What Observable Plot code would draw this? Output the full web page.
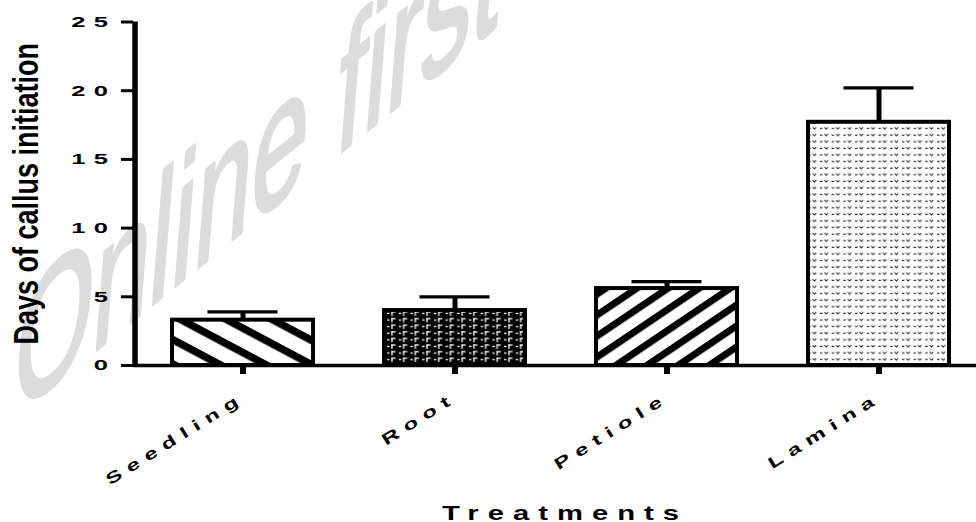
<!DOCTYPE html>
<html>
<head>
<meta charset="utf-8">
<script src="https://cdn.jsdelivr.net/npm/d3@7"></script>
<script src="https://cdn.jsdelivr.net/npm/@observablehq/plot@0.6"></script>
<style>
  body { margin: 0; background: #fff; }
  #chart svg { display: block; }
</style>
</head>
<body>
<div id="chart"></div>
<script>
// ---- data ----
const treatments = ["Seedling", "Root", "Petiole", "Lamina"];
const meanDays = [3.3, 4.0, 5.6, 17.7];
const errDays = [0.6, 1.0, 0.5, 2.5];
const patternIds = ["pat-seedling", "pat-root", "pat-petiole", "pat-lamina"];
const yTicks = [0, 5, 10, 15, 20, 25];
const yTitle = "Days of callus initiation";
const xTitle = "Treatments";
const watermark = "Online first";

const rows = treatments.map((t, i) => ({
  treatment: t,
  mean: meanDays[i],
  top: meanDays[i] + errDays[i],
  fill: `url(#${patternIds[i]})`
}));

const FONT = "'Liberation Sans', Arial, Helvetica, sans-serif";

const chart = Plot.plot({
  width: 976,
  height: 522,
  marginLeft: 133,
  marginRight: 0,
  marginTop: 21.5,
  marginBottom: 157,
  style: {fontFamily: FONT, background: "white", color: "black"},
  x: {type: "band", domain: treatments, range: [133, 988], paddingInner: 0.333, paddingOuter: 0.174},
  y: {domain: [0, 25]},
  color: {type: "identity"},
  marks: [
    Plot.text([watermark], {frameAnchor: "top-left", text: d => d, fontSize: 185, fill: "#dcdcdc",
      stroke: "#dcdcdc", strokeWidth: 4, textAnchor: "start", lineAnchor: "bottom"}),
    Plot.barY(rows, {x: "treatment", y: "mean", fill: "fill", stroke: "black", strokeWidth: 4}),
    Plot.ruleX(rows, {x: "treatment", y1: "mean", y2: "top", stroke: "black", strokeWidth: 5}),
    Plot.tickY(rows, {x: "treatment", y: "top", stroke: "black", strokeWidth: 3.2, insetLeft: 35.5, insetRight: 35.5}),
    Plot.ruleY([0], {stroke: "black", strokeWidth: 3.3}),
    Plot.ruleX([0], {x: null, y1: 0, y2: 25, dx: -420, stroke: "black", strokeWidth: 5.5}),
    Plot.axisY({ticks: yTicks, tickSize: 12, tickPadding: 5, fontSize: 15, fontWeight: "bold",
      strokeWidth: 3, label: null}),
    Plot.axisX({tickSize: 9, tickPadding: 22, tickRotate: -32, fontSize: 16, fontWeight: "bold",
      strokeWidth: 6, label: null}),
    Plot.text([yTitle], {frameAnchor: "left", text: d => d, dx: -107, rotate: -90, fontSize: 27,
      fontWeight: "bold", textAnchor: "middle", lineAnchor: "middle"}),
    Plot.text([xTitle], {frameAnchor: "bottom", text: d => d, dx: 10, dy: 154, fontSize: 19.5,
      fontWeight: "bold", textAnchor: "middle", lineAnchor: "bottom"})
  ]
});

document.getElementById("chart").appendChild(chart);

// ---- post-processing: patterns and text styling ----
const svg = d3.select(chart);
const defs = svg.insert("defs", ":first-child");

// Seedling: stripes going down-right
const pSeed = defs.append("pattern").attr("id", patternIds[0]).attr("patternUnits", "userSpaceOnUse")
  .attr("width", 8).attr("height", 21.5).attr("patternTransform", "rotate(28)");
pSeed.append("rect").attr("width", 8).attr("height", 21.5).attr("fill", "#fff");
pSeed.append("rect").attr("width", 8).attr("height", 7.5).attr("fill", "#000");

// Root: black with white small marks
const pRoot = defs.append("pattern").attr("id", patternIds[1]).attr("patternUnits", "userSpaceOnUse")
  .attr("width", 11.7).attr("height", 6.6);
pRoot.append("rect").attr("width", 11.7).attr("height", 6.6).attr("fill", "#000");
pRoot.append("rect").attr("x", 1).attr("y", 2.6).attr("width", 2.4).attr("height", 1.3).attr("fill", "#fff");
pRoot.append("rect").attr("x", 5.2).attr("y", 1.2).attr("width", 1.3).attr("height", 4.4).attr("fill", "#fff");
pRoot.append("rect").attr("x", 5.2).attr("y", 1.2).attr("width", 4.2).attr("height", 1.3).attr("fill", "#fff");

// Petiole: stripes going up-right
const pPet = defs.append("pattern").attr("id", patternIds[2]).attr("patternUnits", "userSpaceOnUse")
  .attr("width", 8).attr("height", 17.4).attr("patternTransform", "rotate(-34)");
pPet.append("rect").attr("width", 8).attr("height", 17.4).attr("fill", "#fff");
pPet.append("rect").attr("width", 8).attr("height", 7).attr("fill", "#000");

// Lamina: light dotted "v" marks
const pLam = defs.append("pattern").attr("id", patternIds[3]).attr("patternUnits", "userSpaceOnUse")
  .attr("width", 11.7).attr("height", 6.6);
pLam.append("rect").attr("width", 11.7).attr("height", 6.6).attr("fill", "#fff");
pLam.append("path").attr("d", "M1,3.2 h2.4 M5.4,2 L7.2,3.8 L9,2")
  .attr("fill", "none").attr("stroke", "#222").attr("stroke-width", 1);

function stretch(node, sx, sy) {
  const num = v => (v && !/em/.test(v)) ? (parseFloat(v) || 0) : 0;
  const x = num(node.getAttribute("x")), y = num(node.getAttribute("y"));
  const t = node.getAttribute("transform") || "";
  node.setAttribute("transform", `${t} translate(${x},${y}) scale(${sx},${sy}) translate(${-x},${-y})`);
}
const byText = s => svg.selectAll("text").filter(function() { return this.textContent === s; });

const yTickText = new Set(yTicks.map(String));
svg.selectAll("text").filter(function() { return yTickText.has(this.textContent); })
  .attr("font-weight", "bold").style("font-weight", "bold")
  .style("letter-spacing", "5px").each(function() { stretch(this, 1.7, 1); });
treatments.forEach(t => byText(t)
  .attr("font-weight", "bold").style("font-weight", "bold")
  .style("letter-spacing", "5px").each(function() { stretch(this, 1.5, 1); }));
byText(xTitle).style("font-weight", "bold")
  .style("letter-spacing", "6px").each(function() { stretch(this, 1.5, 1); });
byText(yTitle).style("font-weight", "bold")
  .each(function() { stretch(this, 1, 1.3); });
byText(watermark)
  .attr("x", null).attr("y", null)
  .attr("transform", "matrix(0.55,-0.445,-0.08,1,10,419)");
</script>
</body>
</html>
